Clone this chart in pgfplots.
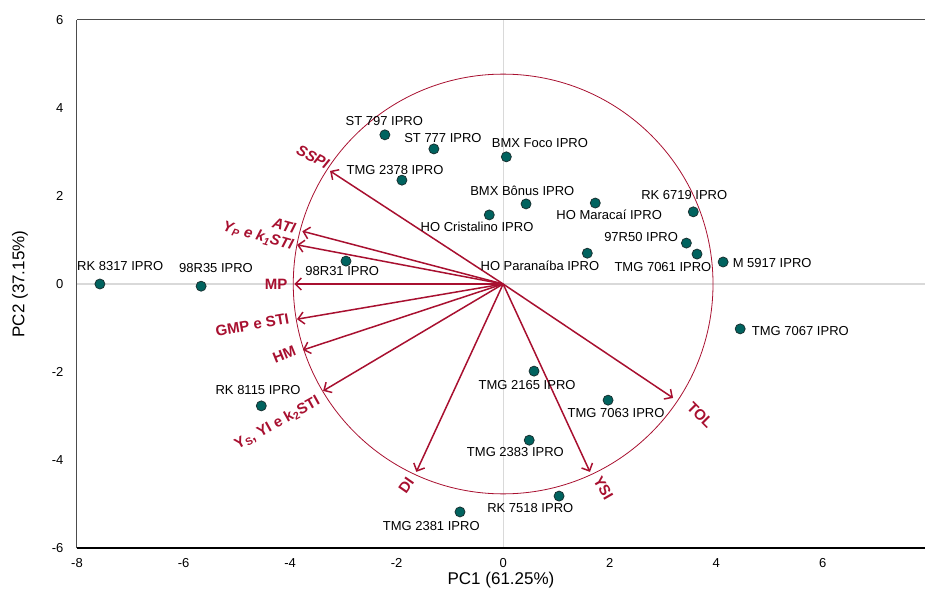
\documentclass[border=0pt]{standalone}
\usepackage{pgfplots}
\pgfplotsset{compat=1.18}
\usetikzlibrary{arrows.meta}
\usepackage{fontspec}
\setmainfont{Liberation Sans}
\definecolor{pt}{RGB}{0,99,95}
\definecolor{ptd}{RGB}{25,50,50}
\definecolor{vr}{RGB}{168,16,48}
\definecolor{zl}{RGB}{217,217,217}
\begin{document}
\begin{tikzpicture}
\begin{axis}[
 at={(0,0)}, anchor=south west, scale only axis, width=848pt, height=528pt,
 xmin=-8, xmax=7.92, ymin=-6, ymax=6,
 xtick={-8,-6,...,6}, ytick={-6,-4,...,6},
 axis x line=box, axis y line=left, axis line style={-, black!70, line width=1pt},
 major tick length=0pt,
 tick label style={font=\fontsize{13}{15}\selectfont},
 yticklabel style={xshift=-10pt},
 xticklabel style={yshift=-7pt},
 /pgf/number format/assume math mode=true,
 xlabel={PC1 (61.25\%)}, ylabel={PC2 (37.15\%)},
 label style={font=\fontsize{17}{20}\selectfont},
 xlabel style={at={(axis description cs:0.5,-0.0606)}, anchor=center},
 ylabel style={at={(axis description cs:-0.0672,0.5)}, anchor=center},
 clip=false,
]
\addplot[zl, line width=1.2pt, forget plot] coordinates {(0,-6) (0,6)};
\addplot[zl, line width=1.2pt, forget plot] coordinates {(-8,0) (7.92,0)};
\draw[black, line width=1.3pt] (rel axis cs:0,0) -- (rel axis cs:1,0);
\draw[vr, line width=0.8pt] (axis cs:0,0) ellipse [x radius=3.94, y radius=4.77];

\pgfplotsset{vec/.style={vr, line width=1.5pt, -{Straight Barb[length=6pt,width=12pt,line width=1.5pt]}, forget plot}}
\addplot[vec] coordinates {(0,0) (-3.25,2.57)};
\addplot[vec] coordinates {(0,0) (-3.77,1.20)};
\addplot[vec] coordinates {(0,0) (-3.87,0.89)};
\addplot[vec] coordinates {(0,0) (-3.92,0)};
\addplot[vec] coordinates {(0,0) (-3.87,-0.80)};
\addplot[vec] coordinates {(0,0) (-3.76,-1.50)};
\addplot[vec] coordinates {(0,0) (-3.38,-2.43)};
\addplot[vec] coordinates {(0,0) (-1.63,-4.27)};
\addplot[vec] coordinates {(0,0) (1.63,-4.27)};
\addplot[vec] coordinates {(0,0) (3.19,-2.59)};

\addplot[only marks, mark=*, mark size=5pt, mark options={fill=pt, draw=ptd, line width=0.8pt}] table {
x y
-7.57 0.00
-5.67 -0.05
-2.95 0.52
-4.54 -2.77
-2.22 3.39
-1.30 3.07
-1.90 2.36
0.06 2.89
0.43 1.82
-0.26 1.57
1.73 1.84
1.58 0.70
3.57 1.64
3.44 0.93
3.64 0.68
4.13 0.50
4.45 -1.02
0.58 -1.98
1.97 -2.64
0.49 -3.55
1.05 -4.82
-0.81 -5.18
};

\tikzset{lab/.style={font=\fontsize{13}{15}\selectfont, inner sep=0pt, anchor=center}}
\node[lab] at (axis cs:-7.19,0.41) {RK 8317 IPRO};
\node[lab] at (axis cs:-5.39,0.36) {98R35 IPRO};
\node[lab] at (axis cs:-3.02,0.30) {98R31 IPRO};
\node[lab] at (axis cs:-4.60,-2.41) {RK 8115 IPRO};
\node[lab] at (axis cs:-2.23,3.70) {ST 797 IPRO};
\node[lab] at (axis cs:-1.13,3.32) {ST 777 IPRO};
\node[lab] at (axis cs:-2.03,2.59) {TMG 2378 IPRO};
\node[lab] at (axis cs:0.69,3.20) {BMX Foco IPRO};
\node[lab] at (axis cs:0.36,2.11) {BMX Bônus IPRO};
\node[lab] at (axis cs:-0.49,1.30) {HO Cristalino IPRO};
\node[lab] at (axis cs:0.69,0.41) {HO Paranaíba IPRO};
\node[lab] at (axis cs:1.99,1.57) {HO Maracaí IPRO};
\node[lab] at (axis cs:3.40,2.02) {RK 6719 IPRO};
\node[lab] at (axis cs:2.59,1.07) {97R50 IPRO};
\node[lab] at (axis cs:3.00,0.39) {TMG 7061 IPRO};
\node[lab] at (axis cs:5.05,0.48) {M 5917 IPRO};
\node[lab] at (axis cs:5.58,-1.07) {TMG 7067 IPRO};
\node[lab] at (axis cs:0.45,-2.30) {TMG 2165 IPRO};
\node[lab] at (axis cs:2.12,-2.93) {TMG 7063 IPRO};
\node[lab] at (axis cs:0.23,-3.82) {TMG 2383 IPRO};
\node[lab] at (axis cs:0.51,-5.09) {RK 7518 IPRO};
\node[lab] at (axis cs:-1.35,-5.50) {TMG 2381 IPRO};

\tikzset{vl/.style={font=\fontsize{15}{17}\selectfont\bfseries, text=vr, inner sep=0pt, anchor=center}}
\node[vl, rotate=-28] at (axis cs:-3.57,2.89) {\itshape SSPI};
\node[vl, rotate=-15] at (axis cs:-4.11,1.32) {\itshape ATI};
\node[vl, rotate=-16] at (axis cs:-4.60,1.09) {\itshape Y\textsubscript{P} e k\textsubscript{1}STI};
\node[vl] at (axis cs:-4.26,0) {MP};
\node[vl, rotate=10] at (axis cs:-4.71,-0.93) {GMP e STI};
\node[vl, rotate=22] at (axis cs:-4.11,-1.61) {HM};
\node[vl, rotate=29] at (axis cs:-4.24,-3.16) {Y\textsubscript{S}, YI e k\textsubscript{2}STI};
\node[vl, rotate=-45] at (axis cs:3.70,-2.98) {TOL};
\node[vl, rotate=55] at (axis cs:-1.82,-4.57) {DI};
\node[vl, rotate=-60] at (axis cs:1.88,-4.64) {YSI};
\end{axis}
\pgfresetboundingbox
\path (-77pt,-52pt) rectangle (848pt,548pt);
\end{tikzpicture}
\end{document}
